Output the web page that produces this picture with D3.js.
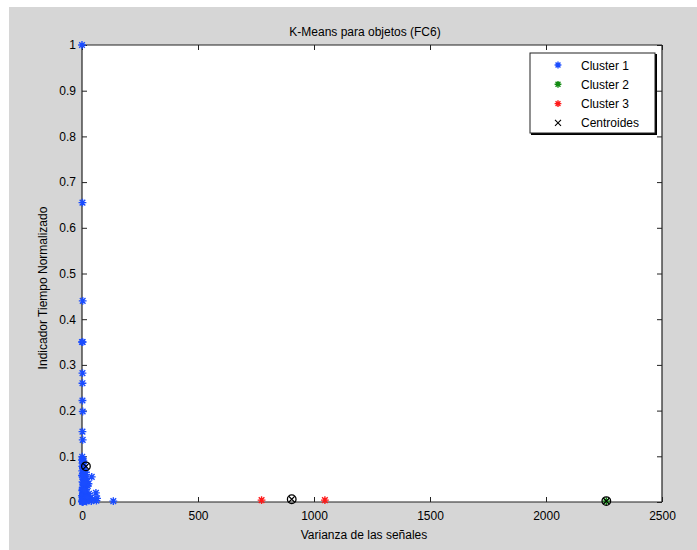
<!DOCTYPE html>
<html><head><meta charset="utf-8">
<script src="https://cdn.jsdelivr.net/npm/d3@7"></script>
<style>
body{margin:0;background:#fff;}
text{font-family:"Liberation Sans",Helvetica,Arial,sans-serif;fill:#000;}
</style></head>
<body><svg id="c" width="697" height="550"></svg>
<script>
// ---- data ----
const cluster1X = [0,2,3,0,3,2,2,2,3,2,3,1,3,6,2,8,4,10,1,5,12,3,18,8,22,2,15,6,25,3,10,18,1,7,14,30,4,20,9,2,35,12,5,25,1,16,8,40,3,20,0,60,65,62,135,45,42,17,28,11,0,4,7,1,9,13,0,5,2,6,11,3,0,8,14,21,1,4];
const cluster1Y = [1.0,0.655,0.44,0.35,0.35,0.282,0.26,0.222,0.198,0.154,0.136,0.099,0.094,0.09,0.085,0.08,0.075,0.07,0.068,0.062,0.06,0.055,0.052,0.05,0.045,0.044,0.04,0.037,0.035,0.032,0.03,0.027,0.025,0.022,0.02,0.018,0.016,0.014,0.012,0.01,0.009,0.008,0.006,0.005,0.004,0.003,0.002,0.002,0.001,0.001,0.0005,0.02,0.008,0.003,0.002,0.006,0.055,0.065,0.04,0.015,0.092,0.088,0.072,0.078,0.058,0.048,0.058,0.042,0.028,0.018,0.024,0.012,0.014,0.007,0.011,0.01,0.002,0.0,0.0];
const cluster2X = [2260];
const cluster2Y = [0.002];
const cluster3X = [774,1047];
const cluster3Y = [0.004,0.004];
const centroidX = [17,2260,904];
const centroidY = [0.078,0.002,0.006];
const xTicks = [0,500,1000,1500,2000,2500];
const yTicks = [0,0.1,0.2,0.3,0.4,0.5,0.6,0.7,0.8,0.9,1];
const legendLabels = ["Cluster 1","Cluster 2","Cluster 3","Centroides"];
const titleText = "K-Means para objetos (FC6)";
const xLabel = "Varianza de las señales";
const yLabel = "Indicador Tiempo Normalizado";

// ---- layout ----
const svg = d3.select("#c");
const L=82, R=662, T=45, B=502;
const colors = ["#1a4cff","#118a11","#ff1a1a","#000"];
svg.append("rect").attr("x",9).attr("y",7).attr("width",688).attr("height",543).attr("fill","#d6d6d6");
svg.append("rect").attr("x",L).attr("y",T).attr("width",R-L).attr("height",B-T).attr("fill","#fff");

const x = d3.scaleLinear().domain([0,2500]).range([L,R]);
const y = d3.scaleLinear().domain([0,1]).range([B,T]);

const fmtY = d => d===0?"0":(d===1?"1":d3.format(".1f")(d));
const tl = 5;
const ax = svg.append("g").attr("transform",`translate(0,${B})`).call(d3.axisBottom(x).tickValues(xTicks).tickSize(-tl).tickPadding(9).tickFormat(d3.format("d")));
const ay = svg.append("g").attr("transform",`translate(${L},0)`).call(d3.axisLeft(y).tickValues(yTicks).tickSize(-tl).tickPadding(6).tickFormat(fmtY));
const axT = svg.append("g").attr("transform",`translate(0,${T})`).call(d3.axisTop(x).tickValues(xTicks).tickSize(-tl).tickFormat(""));
const ayR = svg.append("g").attr("transform",`translate(${R},0)`).call(d3.axisRight(y).tickValues(yTicks).tickSize(-tl).tickFormat(""));
[ax,ay,axT,ayR].forEach(g=>{
  g.selectAll(".domain").attr("stroke","#222").attr("stroke-width",1.2);
  g.selectAll(".tick line").attr("stroke","#222");
  g.selectAll("text").attr("font-size","12px").attr("font-family","Liberation Sans, Helvetica, Arial, sans-serif").attr("fill","#000");
});
ay.selectAll(".domain").attr("d",`M0,${T}V${B}`);
ax.selectAll(".domain").attr("d",`M${L},0H${R}`);
axT.selectAll(".domain").attr("d",`M${L},0H${R}`);
ayR.selectAll(".domain").attr("d",`M0,${T}V${B}`);

function star(g,cx,cy,col,s){
  const r=s||3.9, d=r*0.72;
  g.append("path").attr("d",`M${cx-r},${cy}H${cx+r}M${cx},${cy-r}V${cy+r}M${cx-d},${cy-d}L${cx+d},${cy+d}M${cx-d},${cy+d}L${cx+d},${cy-d}`)
    .attr("stroke",col).attr("stroke-width",1.4).attr("fill","none");
}
function cross(g,cx,cy,col,r){
  g.append("path").attr("d",`M${cx-r},${cy-r}L${cx+r},${cy+r}M${cx-r},${cy+r}L${cx+r},${cy-r}`)
   .attr("stroke",col).attr("stroke-width",1.1).attr("fill","none");
}
const pts = svg.append("g");
cluster1X.forEach((v,i)=>star(pts,x(v),y(cluster1Y[i]),colors[0]));
cluster2X.forEach((v,i)=>star(pts,x(v),y(cluster2Y[i]),colors[1]));
cluster3X.forEach((v,i)=>star(pts,x(v),y(cluster3Y[i]),colors[2]));
centroidX.forEach((v,i)=>{
  cross(pts,x(v),y(centroidY[i]),"#000",3);
  pts.append("circle").attr("cx",x(v)).attr("cy",y(centroidY[i])).attr("r",4.3).attr("fill","none").attr("stroke","#000").attr("stroke-width",1.3);
});

svg.append("text").attr("x",365).attr("y",36).attr("text-anchor","middle").attr("font-size","12px").text(titleText);
svg.append("text").attr("x",364).attr("y",539).attr("text-anchor","middle").attr("font-size","12px").text(xLabel);
svg.append("text").attr("transform","translate(47,288) rotate(-90)").attr("text-anchor","middle").attr("font-size","12px").text(yLabel);

const lg = svg.append("g");
lg.append("rect").attr("x",531).attr("y",54).attr("width",126).attr("height",81).attr("fill","#000");
lg.append("rect").attr("x",530).attr("y",53).attr("width",125).attr("height",80).attr("fill","#fff").attr("stroke","#222").attr("stroke-width",1);
legendLabels.forEach((lab,i)=>{
  const yy = 65 + i*19.3;
  if(i<3) star(lg,558,yy,colors[i],3.4); else cross(lg,558,yy,"#000",3);
  lg.append("text").attr("x",581).attr("y",yy+4.5).attr("font-size","12px").text(lab);
});
</script></body></html>
